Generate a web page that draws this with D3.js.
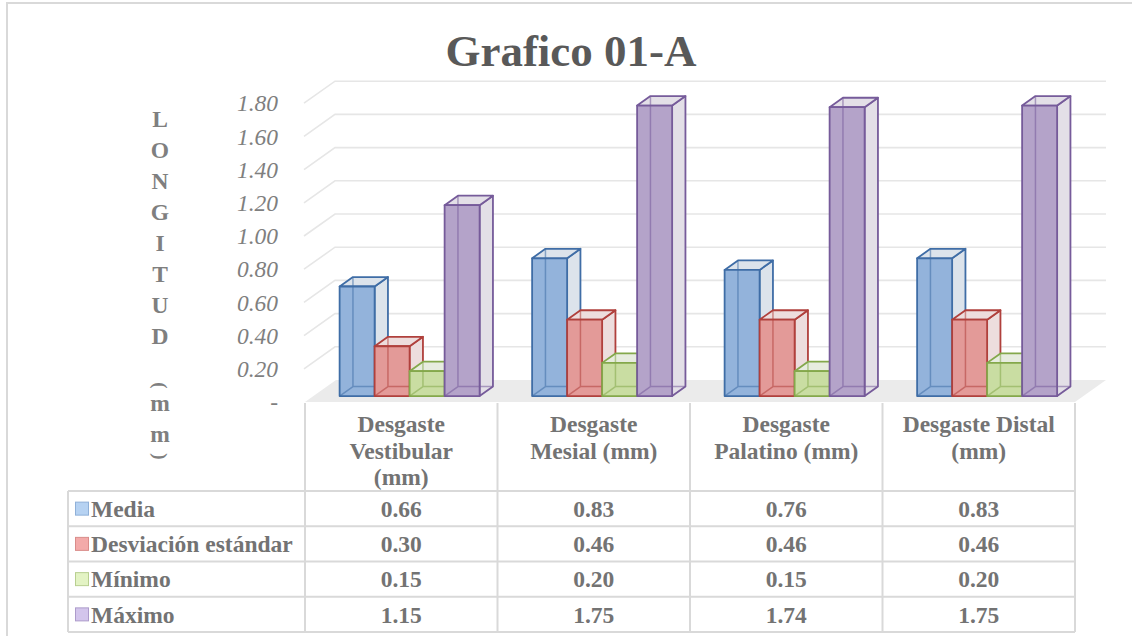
<!DOCTYPE html>
<html>
<head>
<meta charset="utf-8">
<script src="https://cdn.jsdelivr.net/npm/d3@7"></script>
<style>
  html, body { margin: 0; padding: 0; background: #ffffff; }
  svg { display: block; font-family: "Liberation Serif", "Times New Roman", serif; }
</style>
</head>
<body>
<svg id="chart" width="1132" height="636"></svg>
<script>
// ---- data ----
const categories = ["Desgaste Vestibular (mm)", "Desgaste Mesial (mm)", "Desgaste Palatino (mm)", "Desgaste Distal (mm)"];
const categoryLines = [["Desgaste", "Vestibular", "(mm)"], ["Desgaste", "Mesial (mm)"], ["Desgaste", "Palatino (mm)"], ["Desgaste Distal", "(mm)"]];
const seriesNames = ["Media", "Desviación estándar", "Mínimo", "Máximo"];
const media = [0.66, 0.83, 0.76, 0.83];
const desviacion = [0.30, 0.46, 0.46, 0.46];
const minimo = [0.15, 0.20, 0.15, 0.20];
const maximo = [1.15, 1.75, 1.74, 1.75];
const yTicks = [0, 0.2, 0.4, 0.6, 0.8, 1.0, 1.2, 1.4, 1.6, 1.8];
const axisTitle = "LONGITUD (mm)";
const chartTitle = "Grafico 01-A";

const seriesValues = [media, desviacion, minimo, maximo];
const fills = ["#93b3db", "#e39a98", "#c9dda2", "#b4a3c9"];
const strokes = ["#3f6da6", "#b0403c", "#84a84b", "#765b9a"];
const swatchFills = ["#b6d2f2", "#f3aaa9", "#e3f3c4", "#d3c5ec"];
const swatchStrokes = ["#8fb0d8", "#d98c8a", "#b8cf90", "#ad9bcb"];

const svg = d3.select("#chart");
const textGray = "#737373";
const fs = 23.5;

// outer frame
svg.append("rect").attr("x", 7).attr("y", 3).attr("width", 1140).attr("height", 650)
  .attr("fill", "#ffffff").attr("stroke", "#d9d9d9").attr("stroke-width", 2);

// ---- scales ----
const x = d3.scaleBand().domain(categories).range([305, 1075]).padding(0);
const xs = d3.scaleBand().domain(seriesNames).range([0, x.bandwidth()]).paddingInner(0).paddingOuter(0.75);
const y = d3.scaleLinear().domain([0, 1.8]).range([402, 103.2]);

// oblique depth of the plot box
const depth = { dx: 31, dy: -22 };
const barFront = 0.27, barBack = 0.7;
const proj = (px, py, d) => [px + depth.dx * d, py + depth.dy * d];

// ---- title ----
svg.append("text").attr("x", 571).attr("y", 66).attr("text-anchor", "middle")
  .attr("font-size", 45).attr("font-weight", "bold").attr("fill", "#595959").text(chartTitle);

// ---- floor ----
const x0 = x.range()[0], x1 = x.range()[1];
const floorPts = [proj(x0, y(0), 0), proj(x0, y(0), 1), proj(x1, y(0), 1), proj(x1, y(0), 0)];
svg.append("polygon").attr("points", floorPts.map(p => p.join(",")).join(" "))
  .attr("fill", "#ebebeb");

// ---- gridlines on side and back walls ----
const grid = svg.append("g").attr("fill", "none").attr("stroke", "#e6e6e6").attr("stroke-width", 1.6);
yTicks.filter(v => v > 0).forEach(v => {
  const a = proj(x0 - 1, y(v), 0), b = proj(x0 - 1, y(v), 1), c = proj(x1, y(v), 1);
  grid.append("path").attr("d", `M${a}L${b}L${c}`);
});

// ---- y tick labels ----
svg.append("g").selectAll("text").data(yTicks).join("text")
  .attr("x", 278).attr("y", d => y(d)).attr("dy", "0.35em")
  .attr("text-anchor", "end").attr("font-size", fs).attr("font-style", "italic")
  .attr("fill", "#7f7f7f")
  .text(d => d === 0 ? "-" : d.toFixed(2));

// ---- stacked axis title ----
const titleG = svg.append("g").attr("fill", "#7f7f7f").attr("font-size", fs).attr("font-weight", "bold");
let cy = 104;
axisTitle.split("").forEach(ch => {
  const isParen = ch === "(" || ch === ")";
  const adv = ch === " " ? 29 : isParen ? 9 : 31;
  const center = cy + adv / 2;
  if (ch !== " ") {
    if (isParen) {
      titleG.append("text").attr("text-anchor", "middle").attr("dy", "0.32em")
        .attr("font-size", 19)
        .attr("transform", `translate(160,${center}) rotate(90)`).text(ch);
    } else {
      titleG.append("text").attr("x", 160).attr("y", center).attr("dy", ch === "m" ? "0.23em" : "0.33em")
        .attr("text-anchor", "middle").text(ch);
    }
  }
  cy += adv;
});

// ---- 3D bars ----
const barsG = svg.append("g");
const poly = pts => pts.map(p => p.join(",")).join(" ");
categories.forEach((cat, ci) => {
  seriesNames.forEach((s, si) => {
    const v = seriesValues[si][ci];
    const bx0 = x(cat) + xs(s), bx1 = bx0 + xs.bandwidth();
    const yt = y(v), yb = y(0);
    const F = (px, py) => proj(px, py, barFront);
    const B = (px, py) => proj(px, py, barBack);
    const tint = d3.interpolateRgb(fills[si], "#f0f0f0")(0.78);
    const g = barsG.append("g").attr("stroke-linejoin", "round");
    // right side face
    g.append("polygon").attr("points", poly([F(bx1, yt), B(bx1, yt), B(bx1, yb), F(bx1, yb)]))
      .attr("fill", tint).attr("stroke", strokes[si]).attr("stroke-width", 1.8);
    // top face
    g.append("polygon").attr("points", poly([F(bx0, yt), B(bx0, yt), B(bx1, yt), F(bx1, yt)]))
      .attr("fill", tint).attr("stroke", strokes[si]).attr("stroke-width", 1.8);
    // front face
    const f0 = F(bx0, yt), f1 = F(bx1, yb);
    g.append("rect").attr("x", f0[0]).attr("y", f0[1]).attr("width", f1[0] - f0[0]).attr("height", f1[1] - f0[1])
      .attr("fill", fills[si]).attr("stroke", strokes[si]).attr("stroke-width", 1.8);
    // edges seen through the translucent front face
    const hidden = `M${B(bx0, yt)}L${B(bx0, yb)}L${B(bx1, yb)}M${B(bx0, yb)}L${F(bx0, yb)}`;
    g.append("path").attr("d", hidden).attr("fill", "none")
      .attr("stroke", strokes[si]).attr("stroke-opacity", 0.55).attr("stroke-width", 1.5);
  });
});

// ---- data table ----
const rowY = d3.scaleBand().domain(seriesNames).range([491, 632]);
const tableTop = y(0) + 1;
const tbl = svg.append("g").attr("stroke", "#d9d9d9").attr("stroke-width", 2);
x.domain().forEach(c => {
  tbl.append("line").attr("x1", x(c)).attr("x2", x(c)).attr("y1", tableTop).attr("y2", 632);
});
tbl.append("line").attr("x1", x1).attr("x2", x1).attr("y1", tableTop).attr("y2", 632);
tbl.append("line").attr("x1", 68).attr("x2", 68).attr("y1", 491).attr("y2", 632);
seriesNames.forEach(s => {
  tbl.append("line").attr("x1", 68).attr("x2", x1).attr("y1", rowY(s)).attr("y2", rowY(s));
});
tbl.append("line").attr("x1", 68).attr("x2", x1).attr("y1", 632).attr("y2", 632);

// category headers
const hdr = svg.append("g").attr("font-size", fs).attr("font-weight", "bold").attr("fill", textGray)
  .attr("text-anchor", "middle");
categories.forEach((c, ci) => {
  const cx = x(c) + x.bandwidth() / 2;
  const t = hdr.append("text").attr("x", cx).attr("y", 432);
  categoryLines[ci].forEach((ln, li) => {
    t.append("tspan").attr("x", cx).attr("dy", li === 0 ? 0 : 26.7).text(ln);
  });
});

// legend keys + series names + values
const rows = svg.append("g").attr("font-size", fs).attr("font-weight", "bold").attr("fill", textGray);
seriesNames.forEach((s, si) => {
  const cyRow = rowY(s) + rowY.bandwidth() / 2;
  rows.append("rect").attr("x", 75.5).attr("y", cyRow - 6.5).attr("width", 13).attr("height", 13)
    .attr("fill", swatchFills[si]).attr("stroke", swatchStrokes[si]).attr("stroke-width", 1);
  rows.append("text").attr("x", 91).attr("y", cyRow).attr("dy", "0.35em").text(s);
  categories.forEach((c, ci) => {
    rows.append("text").attr("x", x(c) + x.bandwidth() / 2).attr("y", cyRow).attr("dy", "0.35em")
      .attr("text-anchor", "middle").text(seriesValues[si][ci].toFixed(2));
  });
});
</script>
</body>
</html>
